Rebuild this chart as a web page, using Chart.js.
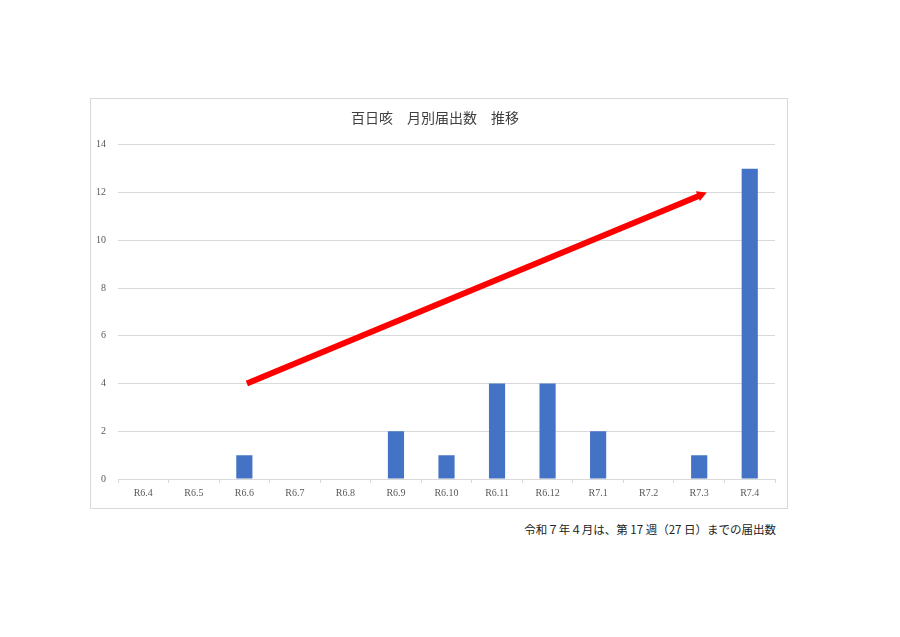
<!DOCTYPE html>
<html lang="ja">
<head>
<meta charset="utf-8">
<script src="https://cdn.jsdelivr.net/npm/chart.js@4/dist/chart.umd.min.js"></script>
<style>
  html, body { margin: 0; padding: 0; background: #fff; }
  body { width: 900px; height: 637px; position: relative; overflow: hidden; }
  #box { position: absolute; left: 90px; top: 98px; width: 696px; height: 409px; border: 1px solid #d9d9d9; }
  #note { position: absolute; left: 400px; width: 376px; top: 521px; text-align: right;
          font-family: "Noto Sans CJK JP", serif; font-size: 11.5px; color: #222; }
</style>
</head>
<body>
<div id="box"><canvas id="chart"></canvas></div>
<div id="note">令和７年４月は、第 17 週（27 日）までの届出数</div>
<script>
const months = ['R6.4','R6.5','R6.6','R6.7','R6.8','R6.9','R6.10','R6.11','R6.12','R7.1','R7.2','R7.3','R7.4']
const counts = [0, 0, 1, 0, 0, 2, 1, 4, 4, 2, 0, 1, 13]
const yTicks = [0, 2, 4, 6, 8, 10, 12, 14]
// arrow drawn over the chart, in data units: [category index, value]
const arrowFrom = [2.05, 4]
const arrowTo = [11.15, 12]

const arrowPlugin = {
    id: 'arrow',
    afterDatasetsDraw(chart) {
        const ctx = chart.ctx
        const x = chart.scales.x, y = chart.scales.y
        const x0 = x.getPixelForValue(arrowFrom[0]), y0 = y.getPixelForValue(arrowFrom[1])
        const x1 = x.getPixelForValue(arrowTo[0]), y1 = y.getPixelForValue(arrowTo[1])
        const ang = Math.atan2(y1 - y0, x1 - x0)
        const head = 11
        ctx.save()
        ctx.strokeStyle = '#ff0000'
        ctx.fillStyle = '#ff0000'
        ctx.lineWidth = 6
        ctx.beginPath()
        ctx.moveTo(x0, y0)
        ctx.lineTo(x1 - head * 0.8 * Math.cos(ang), y1 - head * 0.8 * Math.sin(ang))
        ctx.stroke()
        ctx.beginPath()
        ctx.moveTo(x1, y1)
        ctx.lineTo(x1 - head * Math.cos(ang - 0.5), y1 - head * Math.sin(ang - 0.5))
        ctx.lineTo(x1 - head * Math.cos(ang + 0.5), y1 - head * Math.sin(ang + 0.5))
        ctx.closePath()
        ctx.fill()
        ctx.restore()
    }
}

const chart = new Chart(document.getElementById('chart').getContext('2d'), {
    type: 'bar',
    data: {
        labels: months,
        datasets: [{
            label: '届出数',
            data: counts,
            backgroundColor: '#4472c4',
            barPercentage: 0.64,
            categoryPercentage: 0.5
        }]
    },
    options: {
        responsive: true,
        maintainAspectRatio: false,
        animation: false,
        layout: { padding: { left: 4, right: 12, top: 8, bottom: 5 } },
        plugins: {
            legend: { display: false },
            tooltip: { enabled: false },
            title: {
                display: true,
                text: '百日咳　月別届出数　推移',
                color: '#404040',
                font: { family: '"Noto Sans CJK JP"', size: 14, weight: 'normal' },
                padding: { top: 2, bottom: 19 }
            }
        },
        scales: {
            x: {
                grid: { display: true, drawOnChartArea: false, drawTicks: true, tickLength: 4, color: '#d9d9d9', offset: true },
                border: { color: '#d9d9d9' },
                ticks: { color: '#595959', font: { family: '"Liberation Serif"', size: 10 }, padding: 4, maxRotation: 0 }
            },
            y: {
                min: 0,
                max: 14,
                afterBuildTicks(axis) { axis.ticks = yTicks.map(v => ({ value: v })) },
                afterFit(axis) { axis.width = 23 },
                grid: { color: '#d9d9d9', drawTicks: false },
                border: { display: false },
                ticks: { color: '#595959', font: { family: '"Liberation Serif"', size: 10 }, padding: 12, align: 'center', crossAlign: 'near' }
            }
        }
    },
    plugins: [arrowPlugin]
})
</script>
</body>
</html>
